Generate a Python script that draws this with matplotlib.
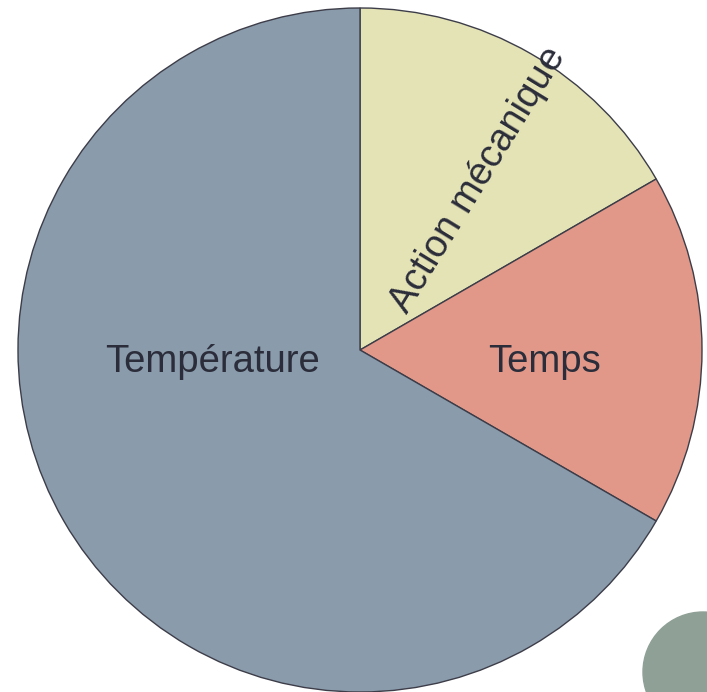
import numpy as np
import matplotlib.pyplot as plt

# slices, clockwise from the top
labels = ['Action mécanique', 'Temps', 'Température']
values = [1, 1, 4]
colors = ['#E4E3B6', '#E29889', '#8A9BAC']

fig = plt.figure(figsize=(7.07, 6.92), dpi=100)
ax = fig.add_axes([0, 0, 1, 1])

R = 342
cx, cy = 360, 342
wedges, _ = ax.pie(values, colors=colors, startangle=90, counterclock=False,
                   center=(cx, cy), radius=R, frame=True,
                   wedgeprops=dict(edgecolor='#3c3d48', linewidth=1.0))
ax.set_xlim(0, 707)
ax.set_ylim(0, 692)
ax.axis('off')

txt = dict(fontsize=27.5, color='#2b2d3a', family=['Liberation Sans', 'DejaVu Sans'],
           ha='center', va='center')

# Action mécanique: along the radius through the middle of its wedge
w = wedges[0]
mid = np.deg2rad((w.theta1 + w.theta2) / 2)
ax.text(cx + 0.6 * R * np.cos(mid) + 15, cy + 0.6 * R * np.sin(mid) - 8, labels[0],
        rotation=np.rad2deg(mid) - 1.5, rotation_mode='anchor', **txt)

w = wedges[1]
mid = np.deg2rad((w.theta1 + w.theta2) / 2)
ax.text(cx + 0.54 * R * np.cos(mid), cy - 12, labels[1], **txt)

ax.text(cx - 0.43 * R, cy - 12, labels[2], **txt)

# decorative circle in the corner
ax.add_patch(plt.Circle((703, 20), 60, color='#8FA096', zorder=5))

fig.savefig('out.png', dpi=100)
